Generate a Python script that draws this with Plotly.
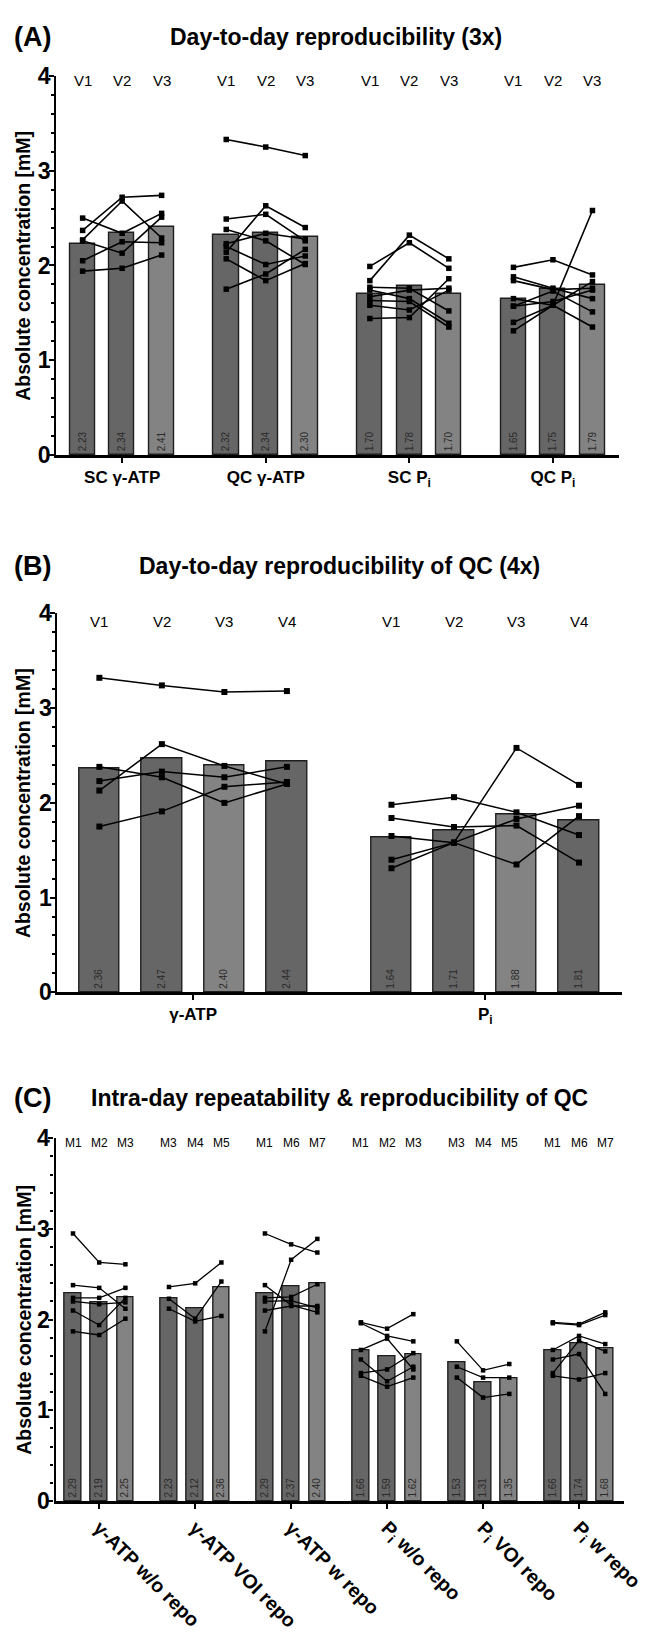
import plotly.graph_objects as go

W, H = 649, 1651
FONT = "Liberation Sans, Arial, Helvetica, sans-serif"
DARK = "#666666"
LIGHT = "#838383"

# ---------------- Panel A data ----------------
A_groups = ["SC γ-ATP", "QC γ-ATP", "SC P<sub>i</sub>", "QC P<sub>i</sub>"]
A_visits = ["V1", "V2", "V3"]
A_means_sc_atp = [2.23, 2.34, 2.41]
A_means_qc_atp = [2.32, 2.34, 2.30]
A_means_sc_pi = [1.70, 1.78, 1.70]
A_means_qc_pi = [1.65, 1.75, 1.79]
A_subj_sc_atp = [[1.94, 1.97, 2.11], [2.05, 2.25, 2.24], [2.50, 2.34, 2.55],
                 [2.37, 2.72, 2.74], [2.27, 2.68, 2.29], [2.26, 2.13, 2.51]]
A_subj_qc_atp = [[3.33, 3.25, 3.16], [2.14, 2.63, 2.40], [2.23, 2.34, 2.28],
                 [2.38, 2.26, 2.01], [1.75, 1.91, 2.17], [2.49, 2.54, 2.26],
                 [2.20, 2.01, 2.10], [2.07, 1.84, 2.02]]
A_subj_sc_pi = [[1.99, 2.24, 1.97], [1.84, 2.32, 2.07], [1.44, 1.45, 1.86],
                [1.77, 1.76, 1.52], [1.74, 1.65, 1.39], [1.67, 1.74, 1.76],
                [1.63, 1.62, 1.35], [1.58, 1.53, 1.74]]
A_subj_qc_pi = [[1.98, 2.06, 1.90], [1.84, 1.745, 1.76], [1.65, 1.58, 1.35],
                [1.40, 1.58, 2.58], [1.31, 1.58, 1.83], [1.88, 1.76, 1.65],
                [1.57, 1.73, 1.51], [1.57, 1.62, 1.74]]

# ---------------- Panel B data ----------------
B_groups = ["γ-ATP", "P<sub>i</sub>"]
B_visits = ["V1", "V2", "V3", "V4"]
B_means_atp = [2.36, 2.47, 2.40, 2.44]
B_means_pi = [1.64, 1.71, 1.88, 1.81]
B_subj_atp = [[3.32, 3.24, 3.17, 3.18], [2.13, 2.62, 2.39, 2.20],
              [2.23, 2.33, 2.27, 2.38], [2.38, 2.27, 2.00, 2.20],
              [1.75, 1.91, 2.17, 2.22]]
B_subj_pi = [[1.98, 2.06, 1.90, 1.66], [1.84, 1.745, 1.76, 1.37],
             [1.65, 1.58, 1.35, 1.86], [1.40, 1.58, 2.58, 2.19],
             [1.31, 1.58, 1.83, 1.97]]

# ---------------- Panel C data ----------------
C_groups = ["γ-ATP w/o repo", "γ-ATP VOI repo", "γ-ATP w repo",
            "P<sub>i</sub> w/o repo", "P<sub>i</sub> VOI repo", "P<sub>i</sub> w repo"]
C_labels_1 = ["M1", "M2", "M3"]
C_labels_2 = ["M3", "M4", "M5"]
C_labels_3 = ["M1", "M6", "M7"]
C_means_atp_wo = [2.29, 2.19, 2.25]
C_means_atp_voi = [2.23, 2.12, 2.36]
C_means_atp_w = [2.29, 2.37, 2.40]
C_means_pi_wo = [1.66, 1.59, 1.62]
C_means_pi_voi = [1.53, 1.31, 1.35]
C_means_pi_w = [1.66, 1.74, 1.68]
C_subj_atp_wo = [[2.95, 2.63, 2.61], [2.38, 2.35, 2.12], [2.24, 2.24, 2.35],
                 [2.20, 2.17, 2.19], [2.10, 1.94, 2.24], [1.87, 1.83, 2.01]]
C_subj_atp_voi = [[2.36, 2.40, 2.63], [2.23, 2.01, 2.42], [2.12, 1.98, 2.04]]
C_subj_atp_w = [[2.95, 2.83, 2.74], [1.87, 2.66, 2.89], [2.38, 2.16, 2.08],
                [2.24, 2.25, 2.39], [2.20, 2.21, 2.13], [2.10, 2.15, 2.15]]
C_subj_pi_wo = [[1.97, 1.90, 2.06], [1.96, 1.82, 1.76], [1.665, 1.79, 1.45],
                [1.56, 1.32, 1.48], [1.41, 1.45, 1.63], [1.38, 1.26, 1.36]]
C_subj_pi_voi = [[1.76, 1.44, 1.51], [1.48, 1.36, 1.36], [1.36, 1.14, 1.18]]
C_subj_pi_w = [[1.97, 1.95, 2.08], [1.96, 1.94, 2.05], [1.665, 1.82, 1.73],
               [1.56, 1.62, 1.18], [1.41, 1.77, 1.65], [1.38, 1.34, 1.41]]

Y_TICKS = [0, 1, 2, 3, 4]

panels = [
    dict(ax="", groups=A_groups,
         labels=[A_visits] * 4,
         means=[A_means_sc_atp, A_means_qc_atp, A_means_sc_pi, A_means_qc_pi],
         subjects=[A_subj_sc_atp, A_subj_qc_atp, A_subj_sc_pi, A_subj_qc_pi],
         colors=[DARK, DARK, LIGHT],
         offsets=[-0.275, 0.0, 0.275], bw=0.175,
         px=(58, 639), py=(64, 449), xr=(-0.459, 3.462),
         lab_y=3.953, lab_size=15, msize=5.5, lw=1.6, angle=0, xfs=17,
         title="Day-to-day reproducibility (3x)", letter="(A)", ty=24, tx=347),
    dict(ax="2", groups=B_groups,
         labels=[B_visits] * 2,
         means=[B_means_atp, B_means_pi],
         subjects=[B_subj_atp, B_subj_pi],
         colors=[DARK, DARK, LIGHT, DARK],
         offsets=[-0.321, -0.107, 0.107, 0.321], bw=0.138,
         px=(59.3, 642), py=(610, 995), xr=(-0.4645, 1.469),
         lab_y=3.91, lab_size=15, msize=6, lw=1.5, angle=0, xfs=17,
         title="Day-to-day reproducibility of QC (4x)", letter="(B)", ty=562, tx=350),
    dict(ax="3", groups=C_groups,
         labels=[C_labels_1, C_labels_2, C_labels_3, C_labels_1, C_labels_2, C_labels_3],
         means=[C_means_atp_wo, C_means_atp_voi, C_means_atp_w,
                C_means_pi_wo, C_means_pi_voi, C_means_pi_w],
         subjects=[C_subj_atp_wo, C_subj_atp_voi, C_subj_atp_w,
                   C_subj_pi_wo, C_subj_pi_voi, C_subj_pi_w],
         colors=[DARK, DARK, LIGHT],
         offsets=[-0.273, 0.0, 0.273], bw=0.172,
         px=(57.3, 644), py=(1143.3, 1511.7), xr=(-0.455, 5.47),
         lab_y=3.946, lab_size=12, msize=4.5, lw=1.3, angle=45, xfs=19.5,
         title="Intra-day repeatability & reproducibility of QC", letter="(C)", ty=1102, tx=350),
]

fig = go.Figure()
annotations = []
layout_axes = {}

for p in panels:
    xa = "x" + p["ax"]
    ya = "y" + p["ax"]
    ng = len(p["groups"])
    nv = len(p["offsets"])
    # bars, one trace per visit position
    for j in range(nv):
        xs = [g + p["offsets"][j] for g in range(ng)]
        ys = [p["means"][g][j] for g in range(ng)]
        fig.add_trace(go.Bar(
            x=xs, y=ys, width=p["bw"], xaxis=xa, yaxis=ya,
            marker=dict(color=p["colors"][j], line=dict(color="#1e1e1e", width=1.4)),
            text=[f"{v:.2f}" for v in ys], textposition="inside",
            insidetextanchor="start", textangle=-90, constraintext="none",
            textfont=dict(size=10, color="#2a2a2a", family=FONT),
            showlegend=False, hoverinfo="skip"))
    # subject lines
    for g in range(ng):
        for subj in p["subjects"][g]:
            fig.add_trace(go.Scatter(
                x=[g + p["offsets"][j] for j in range(nv)], y=subj,
                xaxis=xa, yaxis=ya, mode="lines+markers",
                line=dict(color="black", width=p["lw"]),
                marker=dict(symbol="square", size=p["msize"], color="black"),
                showlegend=False, hoverinfo="skip", cliponaxis=False))
        # visit labels above bars
        for j in range(nv):
            annotations.append(dict(
                x=g + p["offsets"][j], y=p["lab_y"], xref=xa, yref=ya,
                text=p["labels"][g][j], showarrow=False, xanchor="center", yanchor="middle",
                font=dict(size=p["lab_size"], color="black", family=FONT)))

    x0, x1 = p["px"]
    y0, y1 = p["py"]
    layout_axes["xaxis" + p["ax"]] = dict(
        domain=[x0 / W, x1 / W], range=list(p["xr"]), anchor=ya,
        tickmode="array", tickvals=list(range(ng)),
        ticktext=[f"<b>{t}</b>" for t in p["groups"]],
        tickangle=p["angle"], ticklabeloverflow="allow",
        ticks="outside", ticklen=5, tickwidth=2, tickcolor="black",
        showline=True, linewidth=2.5, linecolor="black",
        showgrid=False, zeroline=False,
        tickfont=dict(size=p["xfs"], color="black", family=FONT))
    layout_axes["yaxis" + p["ax"]] = dict(
        domain=[1 - y1 / H, 1 - y0 / H], range=[0, 4], anchor=xa,
        tickmode="array", tickvals=Y_TICKS, ticktext=[str(t) for t in Y_TICKS],
        ticks="outside", ticklen=5, tickwidth=2.2, tickcolor="black",
        ticklabelstandoff=-6,
        minor=dict(dtick=0.2, ticks="outside", ticklen=3, tickwidth=1.5, tickcolor="black"),
        showline=True, linewidth=2.2, linecolor="black",
        showgrid=False, zeroline=False,
        tickfont=dict(size=23, color="black", family=FONT, weight="bold"))

    # panel letter and title
    annotations.append(dict(x=12 / W, y=1 - p["ty"] / H, xref="paper", yref="paper",
                            text=f"<b>{p['letter']}</b>", showarrow=False,
                            xanchor="left", yanchor="middle",
                            font=dict(size=27, color="black", family=FONT)))
    annotations.append(dict(x=p["tx"] / W, y=1 - p["ty"] / H, xref="paper", yref="paper",
                            text=f"<b>{p['title']}</b>", showarrow=False,
                            xanchor="center", yanchor="middle",
                            font=dict(size=23, color="black", family=FONT)))
    # y axis title
    annotations.append(dict(x=24 / W, y=1 - (y0 + y1) / 2 / H, xref="paper", yref="paper",
                            text="<b>Absolute concentration [mM]</b>", showarrow=False,
                            textangle=-90, xanchor="center", yanchor="middle",
                            font=dict(size=19.5, color="black", family=FONT)))

fig.update_layout(
    width=W, height=H, autosize=False,
    margin=dict(l=0, r=0, t=0, b=0),
    paper_bgcolor="white", plot_bgcolor="white",
    barmode="overlay", bargap=0,
    font=dict(family=FONT, color="black"),
    annotations=annotations,
    **layout_axes)

fig.write_html("out.html")
